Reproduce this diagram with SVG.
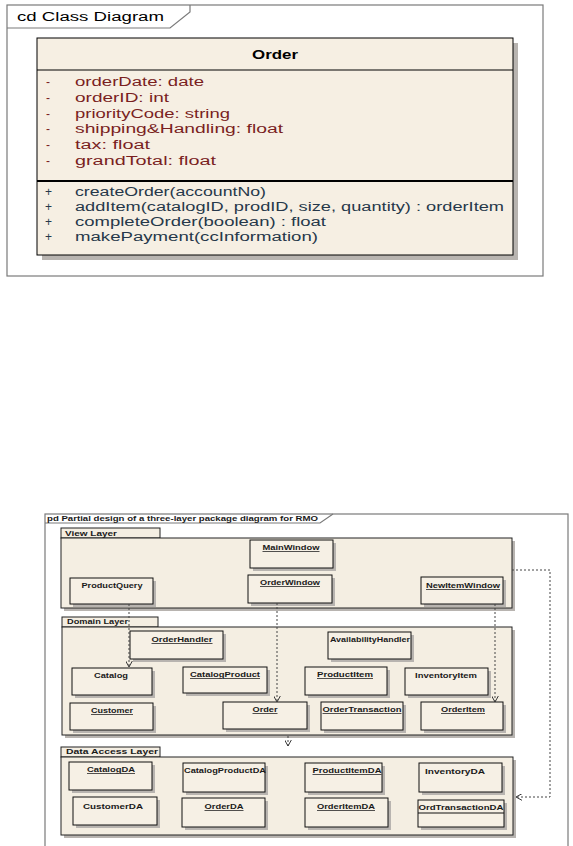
<svg xmlns="http://www.w3.org/2000/svg" width="573" height="846" viewBox="0 0 573 846">
<defs>
<style>
.frame{fill:#fff;stroke:#7a7a7a;stroke-width:1.2}
.cls{fill:#f6efe3;stroke:#000;stroke-width:1}
.shadow{fill:#b8b4b0}
.t{font-family:"Liberation Sans",Arial,sans-serif;font-size:12px}
.attr{fill:#7a1f1f}
.op{fill:#26384a}
.layer{fill:#f4eee2;stroke:#222;stroke-width:1}
.pkg{fill:#f6f0e5;stroke:#111;stroke-width:1}
.p{font-family:"Liberation Sans",Arial,sans-serif;font-size:7.5px;font-weight:bold;fill:#1a1a1a}
.u{text-decoration:underline}
.dep{fill:none;stroke:#444;stroke-width:1;stroke-dasharray:2,2}
</style>
<marker id="open" viewBox="0 0 10 10" refX="9" refY="5" markerWidth="7" markerHeight="7" orient="auto" markerUnits="userSpaceOnUse">
<path d="M0,0 L9,5 L0,10" fill="none" stroke="#333" stroke-width="1.4"/>
</marker>
</defs>
<rect width="573" height="846" fill="#fff"/>

<!-- Top class diagram -->
<g id="class-frame">
<rect class="frame" x="7" y="5" width="536" height="271"/>
<path d="M7,28 H170 L190,12 V5" fill="none" stroke="#7a7a7a" stroke-width="1.2"/>
<text class="t" x="17" y="21" textLength="147" lengthAdjust="spacingAndGlyphs">cd Class Diagram</text>
</g>

<g id="order">
<rect class="shadow" x="42" y="43" width="476" height="217"/>
<rect class="cls" x="37" y="38" width="476" height="217"/>
<line x1="37" y1="70" x2="513" y2="70" stroke="#000" stroke-width="1"/>
<line x1="37" y1="181" x2="513" y2="181" stroke="#000" stroke-width="2"/>
<text class="t" x="275" y="59" font-weight="bold" text-anchor="middle" textLength="46" lengthAdjust="spacingAndGlyphs">Order</text>
<g class="t attr">
<text x="46" y="86">-</text><text x="75" y="86" textLength="129" lengthAdjust="spacingAndGlyphs">orderDate:  date</text>
<text x="46" y="102">-</text><text x="75" y="102" textLength="94" lengthAdjust="spacingAndGlyphs">orderID:  int</text>
<text x="46" y="118">-</text><text x="75" y="118" textLength="155" lengthAdjust="spacingAndGlyphs">priorityCode:  string</text>
<text x="46" y="133">-</text><text x="75" y="133" textLength="208" lengthAdjust="spacingAndGlyphs">shipping&amp;Handling:  float</text>
<text x="46" y="149">-</text><text x="75" y="149" textLength="75" lengthAdjust="spacingAndGlyphs">tax:  float</text>
<text x="46" y="165">-</text><text x="75" y="165" textLength="141" lengthAdjust="spacingAndGlyphs">grandTotal:  float</text>
</g>
<g class="t op">
<text x="45" y="196">+</text><text x="75" y="196" textLength="191" lengthAdjust="spacingAndGlyphs">createOrder(accountNo)</text>
<text x="45" y="211">+</text><text x="75" y="211" textLength="429" lengthAdjust="spacingAndGlyphs">addItem(catalogID, prodID, size, quantity) : orderItem</text>
<text x="45" y="226">+</text><text x="75" y="226" textLength="251" lengthAdjust="spacingAndGlyphs">completeOrder(boolean) : float</text>
<text x="45" y="241">+</text><text x="75" y="241" textLength="243" lengthAdjust="spacingAndGlyphs">makePayment(ccInformation)</text>
</g>
</g>

<!-- Bottom package diagram -->
<g id="pkg-frame">
<rect class="frame" x="45" y="514" width="523" height="340"/>
<path d="M45,523 H320 L333,514" fill="none" stroke="#7a7a7a" stroke-width="1.2"/>
<text class="p" x="47" y="521" textLength="271" lengthAdjust="spacingAndGlyphs">pd Partial design of a three-layer package diagram for RMO</text>
</g>

<g id="view-layer">
<rect class="shadow" x="64" y="541" width="451" height="70"/>
<rect class="layer" x="61" y="528" width="99" height="10"/>
<rect class="layer" x="61" y="538" width="451" height="70"/>
<text class="p" x="65" y="536" textLength="52" lengthAdjust="spacingAndGlyphs">View Layer</text>
</g>
<g id="domain-layer">
<rect class="shadow" x="65" y="630" width="450" height="108"/>
<rect class="layer" x="62" y="617" width="96" height="10"/>
<rect class="layer" x="62" y="627" width="450" height="108"/>
<text class="p" x="67" y="624" textLength="61" lengthAdjust="spacingAndGlyphs">Domain Layer</text>
</g>
<g id="data-access-layer">
<rect class="shadow" x="64" y="760" width="452" height="78"/>
<rect class="layer" x="61" y="747" width="99" height="10"/>
<rect class="layer" x="61" y="757" width="452" height="78"/>
<text class="p" x="66" y="754" textLength="92" lengthAdjust="spacingAndGlyphs">Data Access Layer</text>
</g>

<!-- View layer packages -->
<g id="MainWindow"><rect class="shadow" x="253" y="543" width="83" height="28"/><rect class="pkg" x="250" y="540" width="83" height="28"/><text class="p u" x="291" y="550" text-anchor="middle" textLength="57" lengthAdjust="spacingAndGlyphs">MainWindow</text></g>
<g id="OrderWindow"><rect class="shadow" x="251" y="578" width="84" height="28"/><rect class="pkg" x="248" y="575" width="84" height="28"/><text class="p u" x="290" y="585" text-anchor="middle" textLength="60" lengthAdjust="spacingAndGlyphs">OrderWindow</text></g>
<g id="ProductQuery"><rect class="shadow" x="73" y="581" width="83" height="26"/><rect class="pkg" x="70" y="578" width="83" height="26"/><text class="p" x="112" y="588" text-anchor="middle" textLength="61" lengthAdjust="spacingAndGlyphs">ProductQuery</text></g>
<g id="NewItemWindow"><rect class="shadow" x="424" y="580" width="82" height="27"/><rect class="pkg" x="421" y="577" width="82" height="27"/><text class="p u" x="463" y="588" text-anchor="middle" textLength="74" lengthAdjust="spacingAndGlyphs">NewItemWindow</text></g>

<!-- Domain layer packages -->
<g id="OrderHandler"><rect class="shadow" x="133" y="634" width="93" height="28"/><rect class="pkg" x="130" y="631" width="93" height="28"/><text class="p u" x="182" y="642" text-anchor="middle" textLength="61" lengthAdjust="spacingAndGlyphs">OrderHandler</text></g>
<g id="AvailabilityHandler"><rect class="shadow" x="331" y="635" width="83" height="27"/><rect class="pkg" x="328" y="632" width="83" height="27"/><text class="p" x="370" y="642" text-anchor="middle" textLength="80" lengthAdjust="spacingAndGlyphs">AvailabilityHandler</text></g>
<g id="Catalog"><rect class="shadow" x="75" y="671" width="80" height="27"/><rect class="pkg" x="72" y="668" width="80" height="27"/><text class="p" x="111" y="678" text-anchor="middle" textLength="34" lengthAdjust="spacingAndGlyphs">Catalog</text></g>
<g id="CatalogProduct"><rect class="shadow" x="186" y="670" width="84" height="26"/><rect class="pkg" x="183" y="667" width="84" height="26"/><text class="p u" x="225" y="677" text-anchor="middle" textLength="70" lengthAdjust="spacingAndGlyphs">CatalogProduct</text></g>
<g id="ProductItem"><rect class="shadow" x="308" y="670" width="82" height="28"/><rect class="pkg" x="305" y="667" width="82" height="28"/><text class="p u" x="345" y="677" text-anchor="middle" textLength="56" lengthAdjust="spacingAndGlyphs">ProductItem</text></g>
<g id="InventoryItem"><rect class="shadow" x="408" y="671" width="83" height="27"/><rect class="pkg" x="405" y="668" width="83" height="27"/><text class="p" x="446" y="678" text-anchor="middle" textLength="62" lengthAdjust="spacingAndGlyphs">InventoryItem</text></g>
<g id="Customer"><rect class="shadow" x="73" y="706" width="83" height="27"/><rect class="pkg" x="70" y="703" width="83" height="27"/><text class="p u" x="112" y="713" text-anchor="middle" textLength="42" lengthAdjust="spacingAndGlyphs">Customer</text></g>
<g id="Order"><rect class="shadow" x="226" y="705" width="84" height="27"/><rect class="pkg" x="223" y="702" width="84" height="27"/><text class="p u" x="265" y="712" text-anchor="middle" textLength="25" lengthAdjust="spacingAndGlyphs">Order</text></g>
<g id="OrderTransaction"><rect class="shadow" x="324" y="705" width="82" height="28"/><rect class="pkg" x="321" y="702" width="82" height="28"/><text class="p u" x="362" y="712" text-anchor="middle" textLength="79" lengthAdjust="spacingAndGlyphs">OrderTransaction</text></g>
<g id="OrderItem"><rect class="shadow" x="424" y="705" width="82" height="28"/><rect class="pkg" x="421" y="702" width="82" height="28"/><text class="p u" x="463" y="712" text-anchor="middle" textLength="44" lengthAdjust="spacingAndGlyphs">OrderItem</text></g>

<!-- Data access layer packages -->
<g id="CatalogDA"><rect class="shadow" x="72" y="765" width="83" height="28"/><rect class="pkg" x="69" y="762" width="83" height="28"/><text class="p u" x="111" y="772" text-anchor="middle" textLength="48" lengthAdjust="spacingAndGlyphs">CatalogDA</text></g>
<g id="CatalogProductDA"><rect class="shadow" x="186" y="766" width="82" height="29"/><rect class="pkg" x="183" y="763" width="82" height="29"/><text class="p" x="225" y="773" text-anchor="middle" textLength="82" lengthAdjust="spacingAndGlyphs">CatalogProductDA</text></g>
<g id="ProductItemDA"><rect class="shadow" x="308" y="766" width="77" height="29"/><rect class="pkg" x="305" y="763" width="77" height="29"/><text class="p u" x="347" y="773" text-anchor="middle" textLength="69" lengthAdjust="spacingAndGlyphs">ProductItemDA</text></g>
<g id="InventoryDA"><rect class="shadow" x="422" y="766" width="83" height="29"/><rect class="pkg" x="419" y="763" width="83" height="29"/><text class="p" x="455" y="774" text-anchor="middle" textLength="60" lengthAdjust="spacingAndGlyphs">InventoryDA</text></g>
<g id="CustomerDA"><rect class="shadow" x="76" y="800" width="84" height="28"/><rect class="pkg" x="73" y="797" width="84" height="28"/><text class="p" x="113" y="809" text-anchor="middle" textLength="60" lengthAdjust="spacingAndGlyphs">CustomerDA</text></g>
<g id="OrderDA"><rect class="shadow" x="185" y="801" width="83" height="29"/><rect class="pkg" x="182" y="798" width="83" height="29"/><text class="p u" x="224" y="809" text-anchor="middle" textLength="39" lengthAdjust="spacingAndGlyphs">OrderDA</text></g>
<g id="OrderItemDA"><rect class="shadow" x="308" y="801" width="83" height="29"/><rect class="pkg" x="305" y="798" width="83" height="29"/><text class="p u" x="346" y="809" text-anchor="middle" textLength="58" lengthAdjust="spacingAndGlyphs">OrderItemDA</text></g>
<g id="OrdTransactionDA"><rect class="shadow" x="421" y="803" width="86" height="27"/><rect class="pkg" x="418" y="800" width="86" height="27"/><line x1="418" y1="813" x2="504" y2="813" stroke="#111" stroke-width="1"/><text class="p" x="461" y="810" text-anchor="middle" textLength="85" lengthAdjust="spacingAndGlyphs">OrdTransactionDA</text></g>

<!-- Connectors -->
<g id="connectors">
<line class="dep" x1="129" y1="604" x2="129" y2="667" marker-end="url(#open)"/>
<line class="dep" x1="277" y1="603" x2="277" y2="702" marker-end="url(#open)"/>
<line class="dep" x1="495" y1="604" x2="495" y2="702" marker-end="url(#open)"/>
<line class="dep" x1="288" y1="736" x2="288" y2="746" marker-end="url(#open)"/>
<path class="dep" d="M512,570 H550 V797 H516" marker-end="url(#open)" stroke="#888"/>
</g>
</svg>
